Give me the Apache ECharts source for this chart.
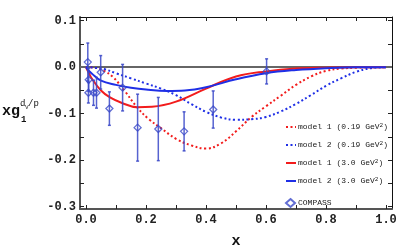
<!DOCTYPE html>
<html><head><meta charset="utf-8">
<script src="https://cdn.jsdelivr.net/npm/echarts@6/dist/echarts.min.js"></script>
<style>html,body{margin:0;padding:0;background:#fff}#c{width:399px;height:249px}</style>
</head><body><div id="c"></div>
<script>
// ---- data ----
const m1LowX = [0, 0.03, 0.06, 0.09, 0.13, 0.17, 0.21, 0.25, 0.3, 0.35, 0.4, 0.45, 0.5, 0.55, 0.6, 0.65, 0.7, 0.75, 0.8, 0.85, 0.9, 0.95, 1.0];
const m1LowY = [0, -0.001, -0.008, -0.021, -0.052, -0.086, -0.112, -0.131, -0.154, -0.168, -0.175, -0.164, -0.138, -0.108, -0.084, -0.061, -0.038, -0.02, -0.008, -0.003, -0.001, 0, 0];
const m2LowX = [0, 0.03, 0.06, 0.1, 0.15, 0.2, 0.25, 0.3, 0.35, 0.4, 0.45, 0.5, 0.55, 0.6, 0.65, 0.7, 0.75, 0.8, 0.85, 0.9, 0.95, 1.0];
const m2LowY = [0, -0.001, -0.004, -0.013, -0.024, -0.035, -0.046, -0.06, -0.079, -0.096, -0.108, -0.113, -0.112, -0.107, -0.095, -0.079, -0.06, -0.04, -0.024, -0.01, -0.002, 0];
const m1HighX = [0, 0.01, 0.02, 0.05, 0.08, 0.12, 0.17, 0.22, 0.3, 0.4, 0.5, 0.6, 0.7, 0.8, 0.9, 1.0];
const m1HighY = [0, -0.013, -0.025, -0.05, -0.065, -0.077, -0.086, -0.085, -0.074, -0.046, -0.02, -0.009, -0.003, -0.001, 0, 0];
const m2HighX = [0, 0.01, 0.02, 0.05, 0.1, 0.15, 0.2, 0.27, 0.33, 0.4, 0.5, 0.6, 0.7, 0.8, 0.9, 1.0];
const m2HighY = [0, -0.008, -0.014, -0.029, -0.038, -0.044, -0.048, -0.051, -0.05, -0.043, -0.026, -0.013, -0.006, -0.002, 0, 0];
const compassX = [0.006, 0.009, 0.008, 0.025, 0.035, 0.049, 0.078, 0.122, 0.172, 0.241, 0.327, 0.424, 0.602];
const compassY = [0.011, -0.027, -0.055, -0.055, -0.055, -0.011, -0.089, -0.044, -0.130, -0.133, -0.138, -0.091, -0.009];
const compassErr = [0.041, 0.025, 0.022, 0.027, 0.033, 0.036, 0.036, 0.05, 0.072, 0.068, 0.042, 0.04, 0.027];
const xLabels = [0, 0.2, 0.4, 0.6, 0.8, 1.0];
const xTicks = [0, 0.1, 0.2, 0.3, 0.4, 0.5, 0.6, 0.7, 0.8, 0.9, 1.0];
const yLabels = [-0.3, -0.2, -0.1, 0, 0.1];
const yTicks = [-0.3, -0.25, -0.2, -0.15, -0.1, -0.05, 0, 0.05, 0.1];
const names = ['model 1 (0.19 GeV{s|2})', 'model 2 (0.19 GeV{s|2})', 'model 1 (3.0 GeV{s|2})', 'model 2 (3.0 GeV{s|2})', 'COMPASS'];

const zip = (a, b) => a.map((v, i) => [v, b[i]]);
const font = 'Liberation Mono';
const RED = '#f21c1c', BLUE = '#1f2fe6', PT = '#3a48c8';

const tickStyle = {show: true, inside: true, length: 4, lineStyle: {color: '#222', width: 1}};
const chart = echarts.init(document.getElementById('c'), null, {renderer: 'canvas'});
chart.setOption({
  animation: false,
  grid: {left: 80, right: 7, top: 17, bottom: 40, containLabel: false, outerBoundsMode: 'none'},
  xAxis: [{
    type: 'value', min: -0.02, max: 1.02, position: 'bottom',
    axisLine: {show: true, onZero: false, lineStyle: {color: '#555', width: 2}},
    axisTick: Object.assign({}, tickStyle, {customValues: xTicks}),
    axisLabel: {customValues: xLabels, formatter: v => v.toFixed(1), fontFamily: font, fontSize: 12, fontWeight: 'bold', color: '#222', margin: 5},
    splitLine: {show: false},
    name: 'x', nameLocation: 'middle', nameGap: 25,
    nameTextStyle: {fontFamily: font, fontSize: 15, fontWeight: 'bold', color: '#111'}
  }, {
    type: 'value', min: -0.02, max: 1.02, position: 'top',
    axisLine: {show: true, onZero: false, lineStyle: {color: '#111', width: 1}},
    axisTick: Object.assign({}, tickStyle, {customValues: xTicks}),
    axisLabel: {show: false}, splitLine: {show: false}
  }],
  yAxis: [{
    type: 'value', min: -0.305, max: 0.108, position: 'left',
    axisLine: {show: true, onZero: false, lineStyle: {color: '#555', width: 2}},
    axisTick: Object.assign({}, tickStyle, {customValues: yTicks}),
    axisLabel: {customValues: yLabels, formatter: v => (v < 0 ? '-0' : '0') + Math.abs(v).toFixed(1).slice(1), fontFamily: font, fontSize: 12, fontWeight: 'bold', color: '#222', margin: 4},
    splitLine: {show: false}
  }, {
    type: 'value', min: -0.305, max: 0.108, position: 'right',
    axisLine: {show: true, onZero: false, lineStyle: {color: '#111', width: 1}},
    axisTick: Object.assign({}, tickStyle, {customValues: yTicks}),
    axisLabel: {show: false}, splitLine: {show: false}
  }],
  legend: [{
    orient: 'vertical', left: 280, top: 117, itemWidth: 10, itemHeight: 8, itemGap: 8,
    data: names.slice(0, 4),
    itemStyle: {opacity: 0, borderWidth: 0},
    formatter: n => n,
    textStyle: {fontFamily: font, fontSize: 8, color: '#222', lineHeight: 10, padding: [0, 0, 0, -3], rich: {s: {fontSize: 6, verticalAlign: 'top', lineHeight: 6, fontFamily: font}}}
  }, {
    orient: 'vertical', left: 280, top: 193, itemWidth: 9, itemHeight: 8,
    data: ['COMPASS'],
    textStyle: {fontFamily: font, fontSize: 8, color: '#222', padding: [0, 0, 0, -2]}
  }],
  graphic: [
    {type: 'text', left: 2, top: 104, style: {text: 'xg', font: 'bold 15px "Liberation Mono"', fill: '#111'}},
    {type: 'text', left: 21, top: 115, style: {text: '1', font: 'bold 9px "Liberation Mono"', fill: '#111'}},
    {type: 'text', left: 20, top: 99, style: {text: 'd', font: '9px "Liberation Mono"', fill: '#111'}},
    {type: 'text', left: 25, top: 104, style: {text: 'V', font: '6px "Liberation Mono"', fill: '#111'}},
    {type: 'text', left: 28, top: 99, style: {text: '/p', font: '9px "Liberation Mono"', fill: '#111'}}
  ],
  series: [
    {name: names[0], type: 'line', data: zip(m1LowX, m1LowY), smooth: 0.4, showSymbol: false, symbol: 'none',
     lineStyle: {color: RED, width: 2, type: [2, 2.5]}, itemStyle: {color: RED},
     markLine: {silent: true, symbol: 'none', label: {show: false}, lineStyle: {color: '#666', width: 2, type: 'solid'}, data: [{yAxis: 0}], z: 1}},
    {name: names[1], type: 'line', data: zip(m2LowX, m2LowY), smooth: 0.4, showSymbol: false, symbol: 'none',
     lineStyle: {color: BLUE, width: 2, type: [2, 2.5]}, itemStyle: {color: BLUE}},
    {name: names[2], type: 'line', data: zip(m1HighX, m1HighY), smooth: 0.4, showSymbol: false, symbol: 'none',
     lineStyle: {color: RED, width: 2}, itemStyle: {color: RED}},
    {name: names[3], type: 'line', data: zip(m2HighX, m2HighY), smooth: 0.4, showSymbol: false, symbol: 'none',
     lineStyle: {color: BLUE, width: 2}, itemStyle: {color: BLUE}},
    {name: 'errbars', type: 'custom', z: 5,
     data: compassX.map((x, i) => [x, compassY[i], compassErr[i]]),
     renderItem: (params, api) => {
       const x = api.value(0), y = api.value(1), e = api.value(2);
       const top = api.coord([x, y + e]), bot = api.coord([x, y - e]);
       const w = 1.5;
       const st = {stroke: PT, lineWidth: 1.5, opacity: 0.85};
       return {type: 'group', children: [
         {type: 'line', shape: {x1: top[0], y1: top[1], x2: bot[0], y2: bot[1]}, style: st},
         {type: 'line', shape: {x1: top[0] - w, y1: top[1], x2: top[0] + w, y2: top[1]}, style: st},
         {type: 'line', shape: {x1: bot[0] - w, y1: bot[1], x2: bot[0] + w, y2: bot[1]}, style: st}
       ]};
     }},
    {name: 'COMPASS', type: 'scatter', z: 6, data: zip(compassX, compassY), symbol: 'diamond', symbolSize: [7, 7],
     itemStyle: {color: 'rgba(255,255,255,0)', borderColor: PT, borderWidth: 1.3}}
  ]
});
</script></body></html>
